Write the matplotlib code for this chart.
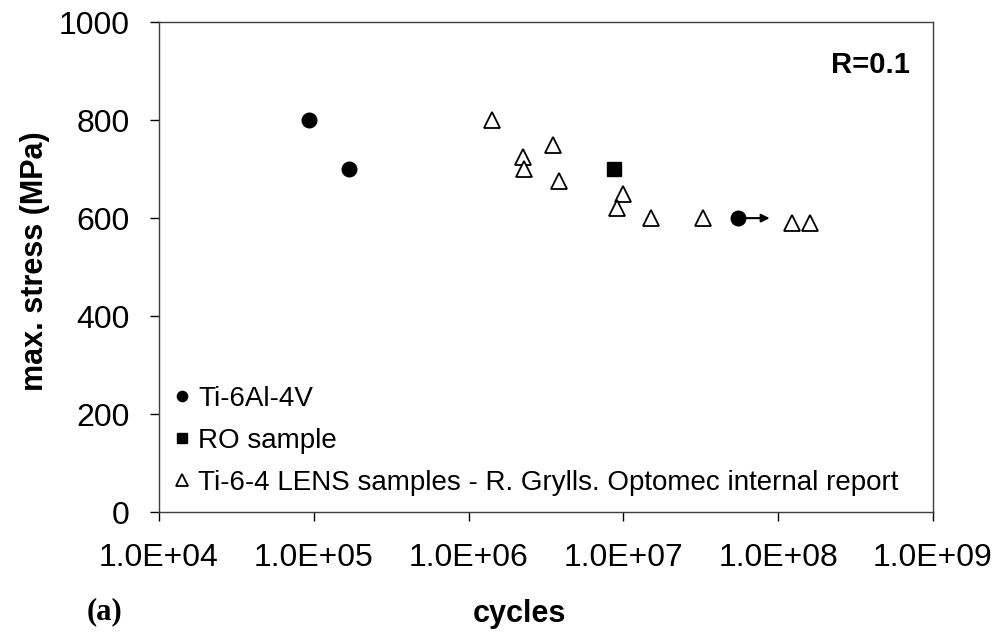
import matplotlib
matplotlib.use("Agg")
import matplotlib.pyplot as plt

plt.rcParams["font.family"] = ["Liberation Sans", "DejaVu Sans"]

# Ti-6Al-4V (wrought)
ti64_cycles = [9.3e4, 1.69e5, 5.5e7]
ti64_stress = [800, 700, 600]

# RO sample
ro_cycles = [8.7e6]
ro_stress = [700]

# LENS samples (Grylls, Optomec)
lens_cycles = [1.42e6, 2.24e6, 2.3e6, 3.5e6, 3.84e6, 1.0e7, 9.1e6, 1.51e7, 3.27e7, 1.23e8, 1.6e8]
lens_stress = [800, 725, 700, 750, 675, 650, 620, 600, 600, 590, 590]

# run-out arrow on the last Ti-6Al-4V point
runout_start = 5.5e7
runout_end = 9.2e7
runout_stress = 600

x_ticks = [1e4, 1e5, 1e6, 1e7, 1e8, 1e9]
x_labels = ["1.0E+04", "1.0E+05", "1.0E+06", "1.0E+07", "1.0E+08", "1.0E+09"]
y_ticks = [0, 200, 400, 600, 800, 1000]

fig = plt.figure(figsize=(10.03, 6.33), dpi=100)
ax = fig.add_axes([0.1585, 0.191, 0.7715, 0.774])

ax.plot(ti64_cycles, ti64_stress, "o", color="black", markersize=10.5, label="Ti-6Al-4V", zorder=3)
ax.plot(ro_cycles, ro_stress, "s", color="black", markersize=9.5, label="RO sample", zorder=3)
ax.plot(lens_cycles, lens_stress, "^", markerfacecolor="white", markeredgecolor="black",
        markeredgewidth=1.3, markersize=11.5, linestyle="none",
        label="Ti-6-4 LENS samples - R. Grylls. Optomec internal report", zorder=3)

ax.annotate("", xy=(runout_end, runout_stress), xytext=(runout_start, runout_stress),
            arrowprops=dict(arrowstyle="-|>", color="black", lw=1.5, mutation_scale=12))

ax.set_xscale("log")
ax.set_xlim(1e4, 1e9)
ax.set_ylim(0, 1000)
ax.set_xticks(x_ticks)
ax.set_xticklabels(x_labels)
ax.minorticks_off()
ax.set_yticks(y_ticks)
ax.tick_params(axis="both", direction="out", length=6.5, width=1, labelsize=23)
ax.tick_params(axis="x", pad=16)
ax.tick_params(axis="y", pad=14.5)
for s in ax.spines.values():
    s.set_linewidth(1)
    s.set_color("#404040")

ax.set_ylabel("max. stress (MPa)", fontsize=22, fontweight="bold", va="center", ha="center")
ax.yaxis.set_label_coords(-0.160, 0.512)
ax.set_xlabel("cycles", fontsize=22, fontweight="bold", va="center", ha="center")
ax.xaxis.set_label_coords(0.466, -0.208)

ax.text(0.970, 0.912, "R=0.1", transform=ax.transAxes, ha="right", va="center",
        fontsize=21, fontweight="bold")

fig.text(0.086, 0.033, "(a)", fontsize=22, fontweight="bold", family="Liberation Serif",
         ha="left", va="center")

ax.legend(loc="lower left", frameon=False, fontsize=20, markerscale=0.7,
          handlelength=0.6, handletextpad=0.3, labelspacing=0.58,
          borderaxespad=0.0, bbox_to_anchor=(0.004, 0.01))

fig.savefig("out.png", dpi=100)
